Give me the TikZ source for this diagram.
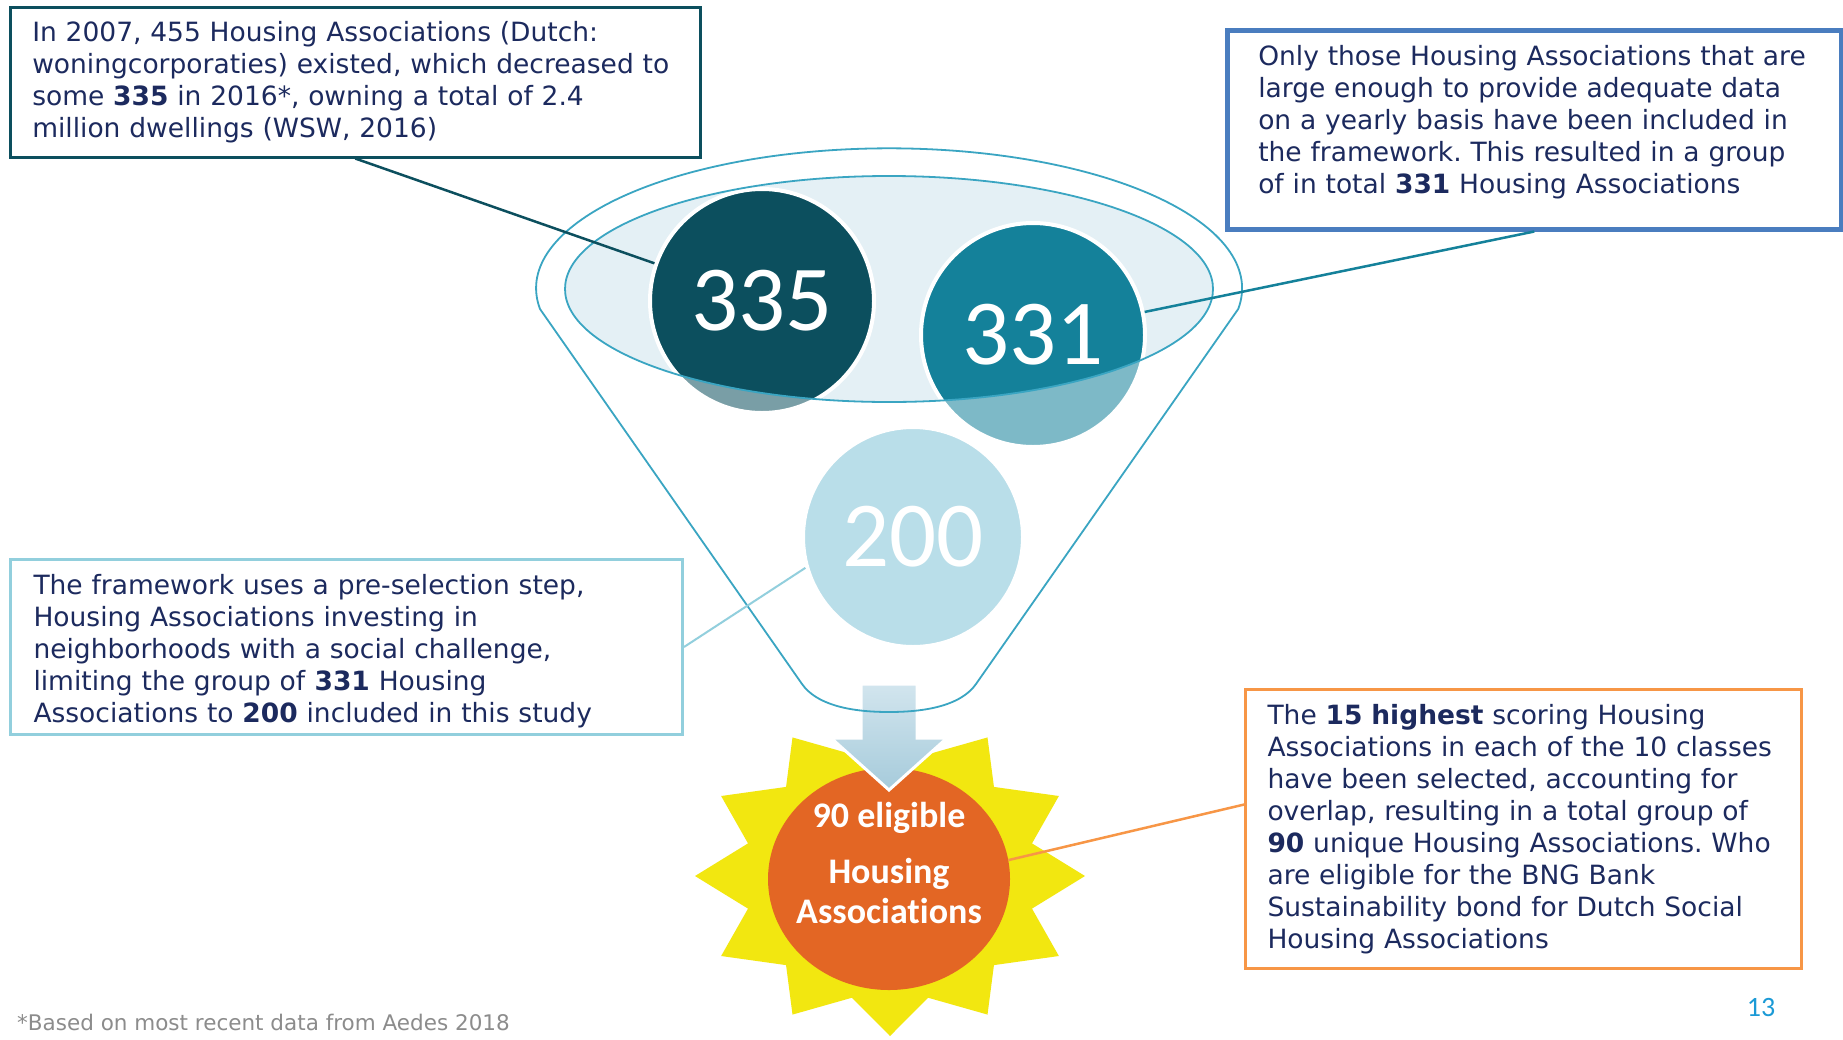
\documentclass[tikz,border=0pt]{standalone}
\usepackage{fontspec}
\setmainfont{DejaVu Sans}
\newfontfamily\calib[Ligatures={NoCommon,NoContextual}]{Carlito}
\usepackage{tikz}
\usetikzlibrary{shapes.geometric}
\frenchspacing

\definecolor{navy}{HTML}{1C2A5E}
\definecolor{darkteal}{HTML}{0C4F5E}
\definecolor{midteal}{HTML}{14819A}
\definecolor{paleblue}{HTML}{B9DEE9}
\definecolor{funnelline}{HTML}{3AA5C2}
\definecolor{rimfill}{HTML}{E4F0F5}
\definecolor{boxblue}{HTML}{4A7DBF}
\definecolor{boxpale}{HTML}{92CFDD}
\definecolor{boxorange}{HTML}{F79646}
\definecolor{eligorange}{HTML}{E36624}
\definecolor{sunyellow}{HTML}{F2E710}
\definecolor{arrowtop}{HTML}{D2E5EE}
\definecolor{arrowbot}{HTML}{A6CBDB}
\definecolor{footgray}{HTML}{8C8C8C}
\definecolor{pageblue}{HTML}{1B9AD6}

\newcommand\notefont{\fontsize{26.5}{32}\selectfont}

\tikzset{
  note/.style={draw, rectangle, anchor=north west, align=left, text=navy, font=\notefont, inner ysep=0pt},
  bubble/.style={circle, draw=white, line width=4pt, inner sep=0pt, text=white, font=\calib\fontsize{93}{93}\selectfont},
  leader/.style={line width=2.5pt},
}

\begin{document}
\begin{tikzpicture}[x=1pt,y=-1pt]
  \useasboundingbox (0,0) rectangle (1843,1039);
  \fill[white] (0,0) rectangle (1843,1039);

  % sun and the 90 eligible
  \fill[sunyellow, shift={(890,876)}] (0:195 and 160)
    \foreach \a in {0,30,...,330} { -- (\a:195 and 160) -- (\a+15:147 and 126) } -- cycle;
  \node[ellipse, fill=eligorange, minimum width=242pt, minimum height=222pt, inner sep=0pt] (elig) at (889,879) {};
  \path[draw=white, line width=3pt, top color=arrowtop, bottom color=arrowbot]
    (861,684) -- (917,684) -- (917,738) -- (947,738) -- (889,790) -- (831,738) -- (861,738) -- cycle;

  % funnel
  \draw[funnelline, line width=1.8pt] (540,309) arc[start angle=171.5, end angle=368.5, x radius=353, y radius=140]
    -- (976,684) .. controls (962,704) and (930,712) .. (889,712) .. controls (848,712) and (816,704) .. (802,684) -- cycle;
  \fill[rimfill] (889,289) ellipse [x radius=324, y radius=113];

  \node[bubble, fill=darkteal, minimum size=224pt] (c335) at (762,301) {335};
  \node[bubble, fill=midteal, minimum size=224pt] (c331) at (1033,335) {331};
  \begin{scope}
    \clip (c335.center) circle (112) (c331.center) circle (112);
    \fill[white, fill opacity=.45, even odd rule] (0,0) rectangle (1843,1039) (889,289) ellipse [x radius=324, y radius=113];
  \end{scope}
  \draw[funnelline, line width=1.8pt] (889,289) ellipse [x radius=324, y radius=113];
  \node[bubble, fill=paleblue, minimum size=220pt] (c200) at (913,537) {200};

  \node[text=white, align=center, font=\calib\bfseries\fontsize{36}{40}\selectfont] (eligtext) at (889,863)
    {90 eligible\\[16pt]Housing\\Associations};

  % notes
  \node[note, draw=darkteal, line width=2.5pt, text width=646pt, inner xsep=22pt, minimum height=150pt] (note335) at (9,6)
    {In 2007, 455 Housing Associations (Dutch:\\
     woningcorporaties) existed, which decreased to\\
     some \textbf{335} in 2016*, owning a total of 2.4\\
     million dwellings (WSW, 2016)};
  \node[note, draw=boxblue, line width=4.5pt, text width=552pt, inner xsep=31pt, minimum height=199pt] (note331) at (1225,28)
    {Only those Housing Associations that are\\
     large enough to provide adequate data\\
     on a yearly basis have been included in\\
     the framework. This resulted in a group\\
     of in total \textbf{331} Housing Associations\rule[-20pt]{0pt}{20pt}};
  \node[note, draw=boxpale, line width=3pt, text width=626pt, inner xsep=23pt, minimum height=175pt] (note200) at (9,558)
    {\rule{0pt}{29pt}The framework uses a pre-selection step,\\
     Housing Associations investing in\\
     neighborhoods with a social challenge,\\
     limiting the group of \textbf{331} Housing\\
     Associations to \textbf{200} included in this study};
  \node[note, draw=boxorange, line width=3pt, text width=512pt, inner xsep=22pt, minimum height=279pt] (note90) at (1244,688)
    {The \textbf{15 highest} scoring Housing\\
     Associations in each of the 10 classes\\
     have been selected, accounting for\\
     overlap, resulting in a total group of\\
     \textbf{90} unique Housing Associations. Who\\
     are eligible for the BNG Bank\\
     Sustainability bond for Dutch Social\\
     Housing Associations};

  \draw[leader, darkteal] (note335.south) -- (c335);
  \draw[leader, midteal] (note331.south) -- (c331);
  \draw[leader, boxpale, line width=2pt] (note200.east) -- (c200.196);
  \draw[leader, boxorange] (note90.175) -- (elig.9);

  \node[anchor=west, inner sep=0pt, text=footgray, font=\fontsize{21.5}{24}\selectfont] (foot) at (17,1022)
    {*Based on most recent data from Aedes 2018};
  \node[inner sep=0pt, text=pageblue, font=\calib\fontsize{28}{28}\selectfont] (pagenum) at (1761,1007) {13};
\end{tikzpicture}
\end{document}
